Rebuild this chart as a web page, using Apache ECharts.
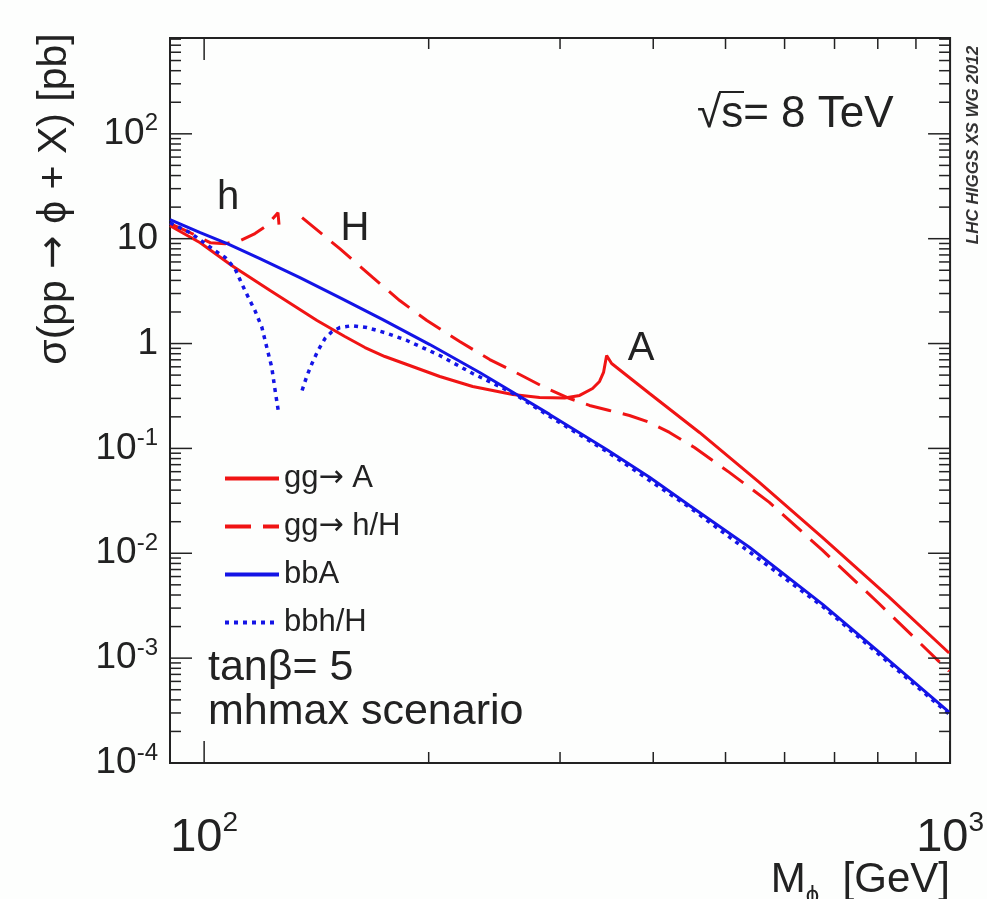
<!DOCTYPE html>
<html>
<head>
<meta charset="utf-8">
<title>MSSM Higgs cross sections, tanβ = 5</title>
<script src="https://cdn.jsdelivr.net/npm/echarts@6/dist/echarts.min.js"></script>
<style>
  html, body { margin: 0; padding: 0; background: #fdfefd; }
  #chart { width: 987px; height: 899px; }
</style>
</head>
<body>
<div id="chart"></div>
<script>
// M_phi [GeV] and sigma [pb]

// gg -> A (cusp at the tt threshold)
const massGgA = [90, 98.8, 109, 122.6, 141.7, 154.4, 164.3, 174.7, 187, 207, 229.1, 259.3, 281.7, 304.3, 318.7, 331.7, 338.9, 343.1, 346.4, 351.8, 395.5, 461.4, 555, 674.2, 828.5, 997]
const xsecGgA = [13.3, 9.16, 5.53, 3.2, 1.66, 1.166, 0.916, 0.752, 0.631, 0.485, 0.389, 0.327, 0.306, 0.303, 0.32, 0.373, 0.435, 0.53, 0.769, 0.645, 0.334, 0.142, 0.0475, 0.0142, 0.00381, 0.00112]

// gg -> h  (ends at the maximal h mass)
const massGgh = [90, 95.8, 101.9, 106.7, 111.7, 117, 120.7, 123.3, 125.6, 126]
const xsecGgh = [13.9, 11.4, 9.16, 8.96, 9.57, 11.2, 13.0, 15.2, 17.7, 13.6]

// gg -> H
const massGgH = [135.3, 152, 168.4, 182.9, 198.9, 220.1, 241.5, 264.9, 287.8, 309.1, 328.6, 349.5, 371.7, 395.5, 420.6, 454.3, 505.9, 572.5, 674.2, 803.5, 997]
const xsecGgH = [15.85, 8.03, 4.25, 2.57, 1.66, 1.045, 0.704, 0.507, 0.373, 0.299, 0.257, 0.23, 0.206, 0.177, 0.142, 0.102, 0.0591, 0.0306, 0.0107, 0.0033, 0.00075]

// bbA
const massBbA = [90, 98.8, 107.4, 118.8, 134.4, 152, 173.6, 200.7, 234.1, 262.4, 290.5, 346.4, 395.5, 447.4, 538.2, 674.2, 803.5, 997]
const xsecBbA = [15.2, 11.4, 8.96, 6.45, 4.25, 2.74, 1.69, 0.978, 0.53, 0.327, 0.211, 0.0978, 0.053, 0.0286, 0.0114, 0.00327, 0.00114, 0.000306]

// bbh
const massBbh = [90, 95.8, 103.4, 106.7, 110, 112.3, 114.6, 117, 119.5, 120.7, 123.2, 124.5, 125.7]
const xsecBbh = [14.2, 11.4, 7.69, 6.63, 5.18, 3.73, 2.76, 2.06, 1.43, 1.07, 0.595, 0.357, 0.23]

// bbH
const massBbH = [135.3, 137.4, 139.5, 142.1, 145.2, 148.4, 152, 157.8, 165.3, 174.7, 187, 207, 229.1, 249.1, 262.4, 290.5, 346.4, 447.4, 674.2, 997]
const xsecBbH = [0.357, 0.496, 0.645, 0.858, 1.116, 1.30, 1.42, 1.48, 1.42, 1.27, 1.07, 0.769, 0.518, 0.389, 0.32, 0.202, 0.0937, 0.0274, 0.00313, 0.000293]

// legend names
const legendNames = ['gg→ A', 'gg→ h/H', 'bbA', 'bbh/H']

// axis ranges
const X_MIN = 90
const X_MAX = 1000
const Y_MIN = 1e-4
const Y_MAX = 820

// tick values (decades + 2..9 in between)
const xTickValues = [100, 200, 300, 400, 500, 600, 700, 800, 900, 1000]
const yTickValues = []
for (let k = -4; k <= 2; k++) {
  for (let m = 1; m <= 9; m++) {
    const v = m * Math.pow(10, k)
    if (v <= Y_MAX) yTickValues.push(v)
  }
}

const RED = '#f01414'
const BLUE = '#1414e6'
const INK = '#222'
const FONT = '"Liberation Sans", Arial, Helvetica, sans-serif'
const ARROW_FONT = '"DejaVu Sans", sans-serif'

function pairs(m, s) {
  return m.map((v, i) => [v, s[i]])
}

function isDecade(v) {
  const e = Math.log10(v)
  return Math.abs(e - Math.round(e)) < 1e-6
}

// 10^n style labels, only on decades
function decadeLabel(v) {
  if (!isDecade(v)) return ''
  const e = Math.round(Math.log10(v))
  if (e === 0) return '{b|1}'
  if (e === 1) return '{b|10}'
  return '{b|10}{s|' + e + '}'
}

// arrow taken from DejaVu, rest in Liberation
function arrowRich(name) {
  return '{t|' + name.replace('→', '}{a|→}{t|') + '}'
}

const chart = echarts.init(document.getElementById('chart'))

const option = {
  animation: false,
  backgroundColor: '#fdfefd',
  grid: {
    left: 170,
    top: 38,
    width: 781,
    height: 725,
    show: true,
    borderColor: INK,
    borderWidth: 2,
    backgroundColor: 'transparent'
  },
  legend: {
    data: legendNames,
    orient: 'vertical',
    left: 218,
    top: 458,
    itemWidth: 54,
    itemHeight: 2,
    itemGap: 17,
    selectedMode: false,
    itemStyle: { opacity: 0 },
    lineStyle: { width: 4 },
    formatter: arrowRich,
    textStyle: {
      color: INK,
      rich: {
        t: { fontSize: 31, fontFamily: FONT, color: INK, lineHeight: 30 },
        a: { fontSize: 30, fontFamily: ARROW_FONT, color: INK, lineHeight: 30 }
      }
    }
  },
  xAxis: {
    type: 'log',
    logBase: 10,
    min: X_MIN,
    max: X_MAX,
    axisLine: { show: false },
    axisTick: { show: false },
    splitLine: { show: false },
    axisLabel: {
      margin: 46,
      formatter: decadeLabel,
      rich: {
        b: { fontSize: 47, fontFamily: FONT, color: INK, lineHeight: 58 },
        s: { fontSize: 28, fontFamily: FONT, color: INK, lineHeight: 28, verticalAlign: 'top' }
      }
    }
  },
  yAxis: {
    type: 'log',
    logBase: 10,
    min: Y_MIN,
    max: Y_MAX,
    axisLine: { show: false },
    axisTick: { show: false },
    splitLine: { show: false },
    axisLabel: {
      margin: 12,
      formatter: decadeLabel,
      rich: {
        b: { fontSize: 37, fontFamily: FONT, color: INK, lineHeight: 44 },
        s: { fontSize: 24, fontFamily: FONT, color: INK, lineHeight: 24, verticalAlign: 'top' }
      }
    }
  },
  graphic: [
    {
      type: 'text', x: 55, y: 199, rotation: Math.PI / 2,
      style: {
        text: '{t|σ(pp }{a|→}{t| ϕ + X) [pb]}',
        textAlign: 'center', textVerticalAlign: 'middle',
        rich: {
          t: { fontSize: 41, fontFamily: FONT, fill: INK },
          a: { fontSize: 40, fontFamily: ARROW_FONT, fill: INK }
        }
      }
    },
    {
      type: 'text', x: 950, y: 880,
      style: {
        text: '{m|M}{p|ϕ}{m|  [GeV]}',
        textAlign: 'right', textVerticalAlign: 'middle',
        rich: {
          m: { fontSize: 42, fontFamily: FONT, fill: INK, lineHeight: 56 },
          p: { fontSize: 24, fontFamily: FONT, fill: INK, lineHeight: 24, verticalAlign: 'bottom' }
        }
      }
    },
    {
      type: 'text', x: 697, y: 115,
      style: { text: '√s= 8 TeV', font: '44px ' + FONT, fill: INK, textAlign: 'left', textVerticalAlign: 'middle' }
    },
    {
      type: 'line', shape: { x1: 719, y1: 92, x2: 744, y2: 92 },
      style: { stroke: INK, lineWidth: 2 }
    },
    {
      type: 'text', x: 973, y: 145, rotation: Math.PI / 2,
      style: { text: 'LHC HIGGS XS WG 2012', font: 'italic bold 17px ' + FONT, fill: '#333', textAlign: 'center', textVerticalAlign: 'middle' }
    },
    {
      type: 'text', x: 228, y: 198,
      style: { text: 'h', font: '40px ' + FONT, fill: INK, textAlign: 'center', textVerticalAlign: 'middle' }
    },
    {
      type: 'text', x: 355, y: 229,
      style: { text: 'H', font: '40px ' + FONT, fill: INK, textAlign: 'center', textVerticalAlign: 'middle' }
    },
    {
      type: 'text', x: 641, y: 349,
      style: { text: 'A', font: '40px ' + FONT, fill: INK, textAlign: 'center', textVerticalAlign: 'middle' }
    },
    {
      type: 'text', x: 208, y: 668,
      style: { text: 'tanβ= 5', font: '43px ' + FONT, fill: INK, textAlign: 'left', textVerticalAlign: 'middle' }
    },
    {
      type: 'text', x: 208, y: 712,
      style: { text: 'mhmax scenario', font: '43px ' + FONT, fill: INK, textAlign: 'left', textVerticalAlign: 'middle' }
    }
  ],
  series: [
    {
      name: 'gg→ A', type: 'line', data: pairs(massGgA, xsecGgA),
      symbol: 'none', showSymbol: false, z: 3,
      lineStyle: { color: RED, width: 3 }, itemStyle: { color: RED }
    },
    {
      name: 'gg→ h/H', type: 'line', data: pairs(massGgh, xsecGgh),
      symbol: 'none', showSymbol: false, z: 3,
      lineStyle: { color: RED, width: 3, type: [26, 12] }, itemStyle: { color: RED }
    },
    {
      name: 'gg→ h/H', type: 'line', data: pairs(massGgH, xsecGgH),
      symbol: 'none', showSymbol: false, z: 3,
      lineStyle: { color: RED, width: 3, type: [26, 12] }, itemStyle: { color: RED }
    },
    {
      name: 'bbA', type: 'line', data: pairs(massBbA, xsecBbA),
      symbol: 'none', showSymbol: false, z: 4,
      lineStyle: { color: BLUE, width: 3 }, itemStyle: { color: BLUE }
    },
    {
      name: 'bbh/H', type: 'line', data: pairs(massBbh, xsecBbh),
      symbol: 'none', showSymbol: false, z: 4,
      lineStyle: { color: BLUE, width: 3.5, type: [4, 5] }, itemStyle: { color: BLUE }
    },
    {
      name: 'bbh/H', type: 'line', data: pairs(massBbH, xsecBbH),
      symbol: 'none', showSymbol: false, z: 4,
      lineStyle: { color: BLUE, width: 3.5, type: [4, 5] }, itemStyle: { color: BLUE }
    },
    // ticks on bottom and top frame
    {
      type: 'custom', silent: true, z: 5,
      data: xTickValues.map(v => [v, Y_MIN]),
      renderItem(params, api) {
        const v = api.value(0)
        const pB = api.coord([v, Y_MIN])
        const pT = api.coord([v, Y_MAX])
        const len = isDecade(v) ? 22 : 11
        const st = { stroke: INK, lineWidth: 1.5 }
        return {
          type: 'group',
          children: [
            { type: 'line', shape: { x1: pB[0], y1: pB[1], x2: pB[0], y2: pB[1] - len }, style: st },
            { type: 'line', shape: { x1: pT[0], y1: pT[1], x2: pT[0], y2: pT[1] + len }, style: st }
          ]
        }
      }
    },
    // ticks on left and right frame
    {
      type: 'custom', silent: true, z: 5,
      data: yTickValues.map(v => [X_MIN, v]),
      renderItem(params, api) {
        const v = api.value(1)
        const pL = api.coord([X_MIN, v])
        const pR = api.coord([X_MAX, v])
        const len = isDecade(v) ? 22 : 11
        const st = { stroke: INK, lineWidth: 1.5 }
        return {
          type: 'group',
          children: [
            { type: 'line', shape: { x1: pL[0], y1: pL[1], x2: pL[0] + len, y2: pL[1] }, style: st },
            { type: 'line', shape: { x1: pR[0], y1: pR[1], x2: pR[0] - len, y2: pR[1] }, style: st }
          ]
        }
      }
    }
  ]
}

chart.setOption(option)
</script>
</body>
</html>
